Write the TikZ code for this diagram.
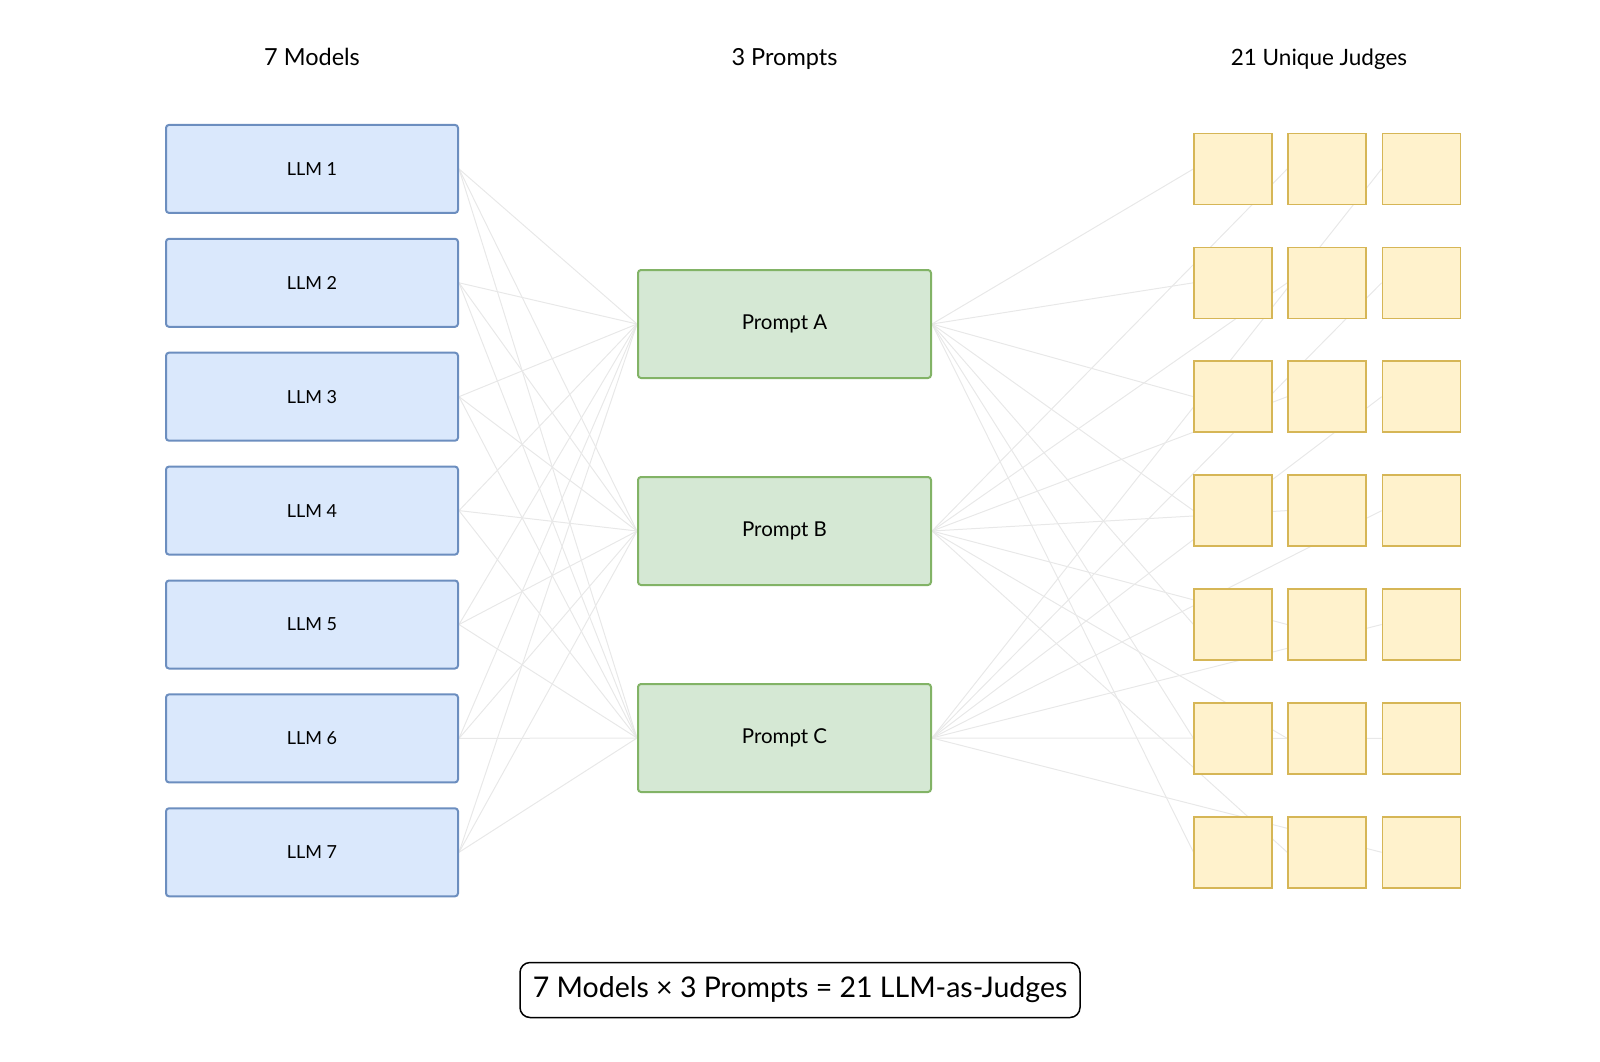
\documentclass[tikz,border=0pt]{standalone}
\usepackage{fontspec}
\setmainfont{Lato}
\usetikzlibrary{backgrounds}
\definecolor{llmfill}{HTML}{DAE8FC}
\definecolor{llmline}{HTML}{6C8EBF}
\definecolor{prmfill}{HTML}{D5E8D4}
\definecolor{prmline}{HTML}{82B366}
\definecolor{jdgfill}{HTML}{FFF2CC}
\definecolor{jdgline}{HTML}{D6B656}
\definecolor{linkgray}{HTML}{E8E8E8}
\tikzset{
  llm/.style={draw=llmline,fill=llmfill,line width=2pt,rounded corners=3pt,minimum width=292pt,minimum height=88pt,font=\fontsize{18}{20}\selectfont},
  prm/.style={draw=prmline,fill=prmfill,line width=2pt,rounded corners=3pt,minimum width=293pt,minimum height=108pt,font=\fontsize{20.5}{22}\selectfont},
  jdg/.style={draw=jdgline,fill=jdgfill,line width=1.5pt,minimum width=78pt,minimum height=71pt},
  head/.style={anchor=base,font=\fontsize{23.5}{26}\selectfont},
  link/.style={draw=linkgray,line width=1pt},
}

\begin{document}
\begin{tikzpicture}[x=1pt,y=-1pt]
  \useasboundingbox (0,0) rectangle (1600,1062);
  \node[head] (hmodels) at (312,65.5) {7 Models};
  \node[head] (hprompts) at (784.5,65.5) {3 Prompts};
  \node[head,font=\fontsize{22.5}{25}\selectfont] (hjudges) at (1319,65.5) {21 Unique Judges};
  \foreach \i in {1,...,7}{
    \node[llm] (llm\i) at (312,{168.9+113.9*(\i-1)}) {LLM \i};
    \foreach \c/\cx in {1/1233.2,2/1327,3/1421.4}
      \node[jdg] (j\i-\c) at (\cx,{168.9+113.9*(\i-1)}) {};
  }
  \foreach \p/\py/\pl in {a/324/A,b/531/B,c/738/C}
    \node[prm] (p\p) at (784.5,\py) {Prompt \pl};
  \begin{scope}[on background layer]
    \foreach \i in {1,...,7}{
      \foreach \p in {a,b,c}
        \draw[link] (llm\i.east) -- (p\p.west);
      \draw[link] (pa.east) -- (j\i-1.west);
      \draw[link] (pb.east) -- (j\i-2.west);
      \draw[link] (pc.east) -- (j\i-3.west);
    }
  \end{scope}
  \node[draw,line width=1.5pt,rounded corners=10pt,minimum width=560pt,minimum height=55pt,font=\fontsize{28.5}{31}\selectfont] (formula) at (800,990) {7 Models × 3 Prompts = 21 LLM-as-Judges};
\end{tikzpicture}
\end{document}
